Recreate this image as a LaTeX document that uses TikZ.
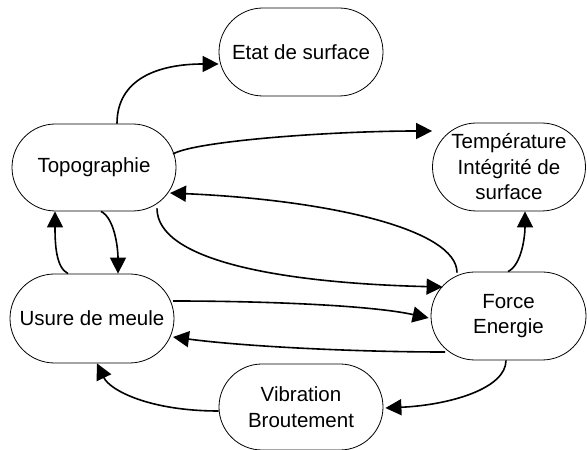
\documentclass[tikz,border=0pt]{standalone}
\usepackage{fontspec}
\setmainfont{Liberation Sans}
\usetikzlibrary{arrows.meta,shapes.misc}
\begin{document}
\begin{tikzpicture}[x=1pt,y=1pt,
  box/.style={draw, line width=0.8pt, rounded rectangle, align=center,
    font=\fontsize{20.5}{25.5}\selectfont, inner sep=0pt},
  conn/.style={line width=1.6pt, -{Triangle[length=16pt,width=16pt]}}]
\useasboundingbox (0,0) rectangle (587,450);
\node[box, minimum width=164pt, minimum height=88pt] (etat) at (301,398) {Etat de surface};
\node[box, minimum width=164pt, minimum height=87pt] (topo) at (94,282.5) {Topographie};
\node[box, minimum width=153pt, minimum height=88pt] (temp) at (509,283) {Température\\Intégrité de\\surface};
\node[box, minimum width=164pt, minimum height=89pt] (usure) at (92,131.5) {Usure de meule};
\node[box, minimum width=155pt, minimum height=88pt] (force) at (508.5,134) {Force\\Energie};
\node[box, minimum width=164pt, minimum height=86pt] (vib) at (301,43) {Vibration\\Broutement};

% Topographie -> Etat de surface
\draw[conn] ([xshift=23pt]topo.north) .. controls +(0,45) and +(-60,0) .. ([yshift=-12pt]etat.west);
% Topographie -> Temperature
\draw[conn] ([xshift=79pt,yshift=13.5pt]topo.center) .. controls +(22,13) and +(-100,0) .. ([yshift=36pt]temp.west);
% Force -> Topographie
\draw[conn] ([xshift=-51.5pt,yshift=-1pt]force.north) .. controls +(0,43) and +(160,-7) .. ([xshift=76pt,yshift=-25.5pt]topo.center);
% Topographie -> Force
\draw[conn] ([xshift=63pt,yshift=3pt]topo.south) .. controls +(0,-52) and +(-163,4) .. ([xshift=12pt,yshift=29pt]force.west);
% Topographie -> Usure
\draw[conn] ([xshift=7pt]topo.south) .. controls +(14,-7) and +(0,24) .. ([xshift=26pt]usure.north);
% Usure -> Topographie
\draw[conn] ([xshift=-24pt]usure.north) .. controls +(-12,6) and +(0,-33) .. ([xshift=-39pt]topo.south);
% Usure -> Force
\draw[conn] ([xshift=81pt,yshift=17.5pt]usure.center) .. controls +(87,0) and +(-59,13) .. ([xshift=-2pt,yshift=-2pt]force.west);
% Force -> Usure
\draw[conn] ([xshift=-63.5pt,yshift=-36pt]force.center) .. controls +(-95,0) and +(67,-9) .. ([xshift=81pt,yshift=-18.5pt]usure.center);
% Force -> Vibration
\draw[conn] ([xshift=-2.5pt]force.south) .. controls +(0,-28) and +(65,3) .. ([xshift=2pt,yshift=-1pt]vib.east);
% Vibration -> Usure
\draw[conn] ([yshift=-4pt]vib.west) .. controls +(-69,0) and +(13,-27) .. ([xshift=5pt]usure.south);
% Force -> Temperature
\draw[conn] ([xshift=-0.5pt]force.north) .. controls +(14,7) and +(0,-24) .. ([xshift=16pt]temp.south);
\end{tikzpicture}
\end{document}
